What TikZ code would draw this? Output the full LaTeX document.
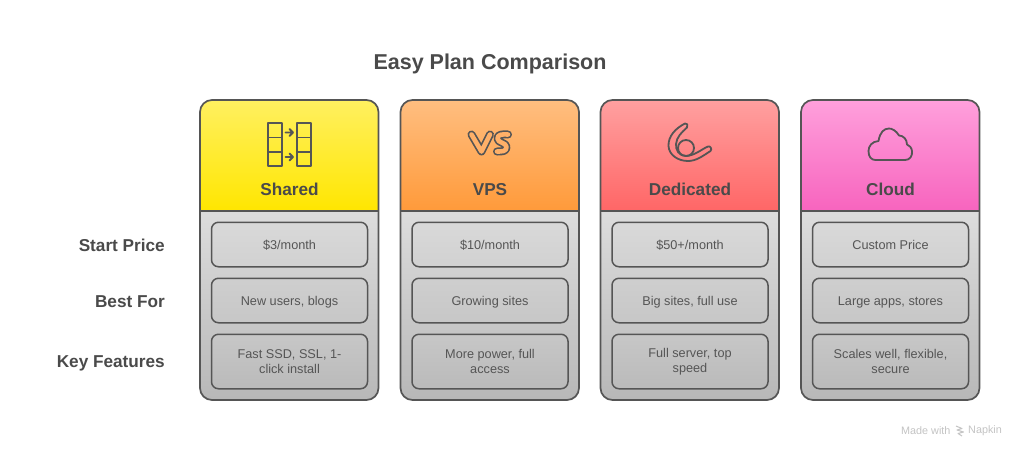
\documentclass[tikz,border=0pt]{standalone}
\usepackage{fontspec}
\setmainfont{Liberation Sans}
\definecolor{ink}{HTML}{4A4A4A}
\definecolor{edge}{HTML}{555555}
\definecolor{vsfill}{HTML}{FFB068}
\definecolor{markgrey}{HTML}{C4C4C4}
\begin{document}
\begin{tikzpicture}[x=1pt,y=-1pt,
  cell/.style n args={2}{draw=edge,line width=1.5pt,rounded corners=7pt,minimum width=156pt,inner sep=0pt,top color=#1,bottom color=#2,text=edge,font=\fontsize{12.7}{15.5}\selectfont,align=center},
  oneline/.style={text height=10pt,text depth=1pt},
  headlabel/.style={text=ink,font=\bfseries\fontsize{17.2}{20}\selectfont,inner sep=0pt,anchor=base},
  rowlabel/.style={text=ink,font=\bfseries\fontsize{17.2}{20}\selectfont,anchor=base east,inner sep=0pt},
  icon/.style={draw=edge,line width=1.8pt,line join=round,line cap=round},
  outlined/.style={line width=8pt,draw=edge,line cap=round,line join=round},
  outlinedin/.style={line width=4.6pt,draw=vsfill,line cap=round,line join=round},
  marktext/.style={text=markgrey,font=\fontsize{10.8}{12}\selectfont,inner sep=0pt}]
\useasboundingbox[fill=white] (0,0) rectangle (1024,456);
\node[text=ink,font=\bfseries\fontsize{21.5}{26}\selectfont,inner sep=0pt,anchor=base] (title) at (490,69) {Easy Plan Comparison};
\node[rowlabel] (r1) at (165,251) {Start Price};
\node[rowlabel] (r2) at (165,307) {Best For};
\node[rowlabel] (r3) at (165,367.5) {Key Features};

\foreach \x/\nm/\ca/\cb/\lab/\ta/\tb/\tc in {
  200/a/FFF060/FFE600/Shared/{\$3/month}/{New users, blogs}/{Fast SSD, SSL, 1-\\click install},
  400.5/b/FFBE80/FF9A3A/VPS/{\$10/month}/{Growing sites}/{More power, full\\access},
  600.5/c/FFA0A0/FF6666/Dedicated/{\$50+/month}/{Big sites, full use}/{Full server, top\\speed},
  801/d/FFA0DC/F764BE/Cloud/{Custom Price}/{Large apps, stores}/{Scales well, flexible,\\secure}}{
  \definecolor{ctop}{HTML}{\ca}
  \definecolor{cbot}{HTML}{\cb}
  \shade[top color=black!13,bottom color=black!28,rounded corners=12pt]
     (\x,205) -- (\x,400) -- (\x+178.5,400) -- (\x+178.5,205) -- cycle;
  \shade[top color=ctop,bottom color=cbot,rounded corners=12pt]
     (\x,211) -- (\x,100) -- (\x+178.5,100) [sharp corners] -- (\x+178.5,211) -- cycle;
  \draw[edge,line width=1.7pt,rounded corners=12pt]
     (\x,100) rectangle (\x+178.5,400);
  \draw[edge,line width=1.7pt] (\x,211) -- (\x+178.5,211);
  \node[headlabel] (h\nm) at (\x+89.5,195) {\lab};
  \node[cell={black!15}{black!18},oneline,minimum height=44.5pt] (p\nm) at (\x+89.5,244.5) {\ta};
  \node[cell={black!19}{black!22},oneline,minimum height=44.5pt] (u\nm) at (\x+89.5,300.5) {\tb};
  \node[cell={black!22}{black!27},minimum height=54.5pt] (f\nm) at (\x+89.5,361.5) {\tc};
}

% Shared icon
\draw[icon,line cap=butt] (268,123) rectangle (282,166);
\draw[icon,line cap=butt] (268,137.5) -- (282,137.5) (268,152) -- (282,152);
\draw[icon,line cap=butt] (297,123) rectangle (311,166);
\draw[icon,line cap=butt] (297,137.5) -- (311,137.5) (297,152) -- (311,152);
\draw[icon] (285.5,132.5) -- (293,132.5) (289.5,129) -- (293,132.5) -- (289.5,136);
\draw[icon] (285.5,157) -- (293,157) (289.5,153.5) -- (293,157) -- (289.5,160.5);

% VS icon
\def\vpath{(471.5,134.5) -- (481.5,151.5) -- (490,134.5)}
\def\spath{(508,134.5) .. controls (502,134) and (497.5,134.5) .. (497.5,138.5) .. controls (497.5,143) and (506.5,142.5) .. (506.5,147) .. controls (506.5,151.5) and (502,151.5) .. (497,151.5)}
\draw[outlined] \vpath;
\draw[outlinedin] \vpath;
\draw[outlined] \spath;
\draw[outlinedin] \spath;

% Dedicated icon
\draw[icon] (685,123.5) .. controls (676,128) and (668,136) .. (668.5,146)
  .. controls (669,155) and (678,161) .. (688,161)
  .. controls (696,161) and (702,156.5) .. (710.5,151)
  .. controls (712.5,149) and (710,145.5) .. (708,146.5)
  .. controls (701,149.5) and (695,155.5) .. (686,156)
  .. controls (679,156) and (675.5,150) .. (676,144)
  .. controls (676.5,137) and (682,132) .. (687,127.5)
  .. controls (688.5,125.5) and (687,122.5) .. (685,123.5) -- cycle;
\draw[icon] (686,148) circle[radius=8];

% Cloud icon
\draw[icon] (875.5,160) -- (905,160)
  .. controls (910,160) and (912.5,156) .. (912,151)
  .. controls (911.5,147.5) and (909.5,145.5) .. (907,144.5)
  .. controls (907,139) and (903,135.5) .. (899,135.5)
  .. controls (896,130.5) and (892,128.5) .. (889,128.5)
  .. controls (884,128.5) and (880,132) .. (878.5,141)
  .. controls (872,141.5) and (868.5,146) .. (868.5,151)
  .. controls (868.5,156.5) and (871,160) .. (875.5,160) -- cycle;

% Napkin mark
\node[marktext,anchor=west] (made) at (901,430.5) {Made with};
\node[marktext,anchor=west] (napkin) at (968,430.5) {Napkin};
\draw[markgrey,line width=1pt,line join=round] (956,426) -- (962,428.5) -- (957,430) -- (963.5,432) -- (958,433.5) -- (962,436);
\end{tikzpicture}
\end{document}
